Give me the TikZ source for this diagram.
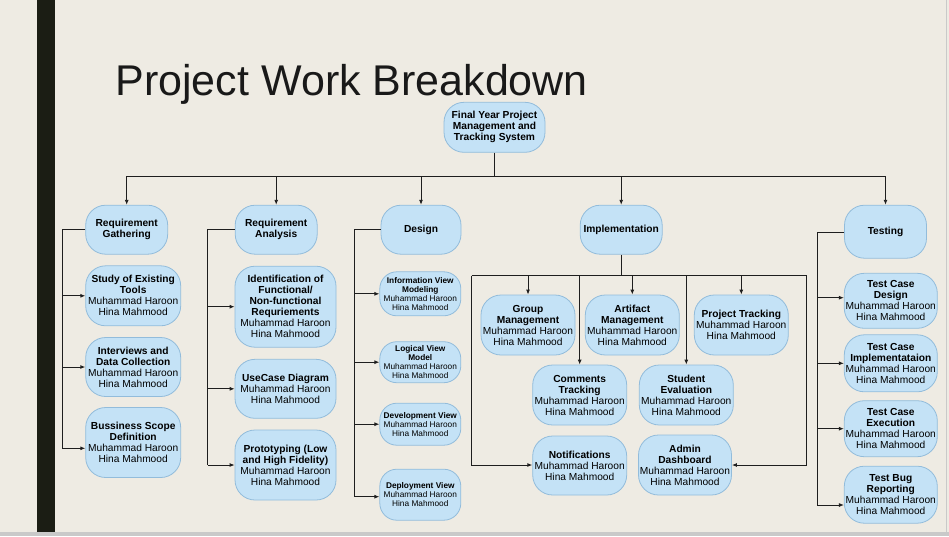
\documentclass[tikz,border=0pt]{standalone}
\usepackage{fontspec}
\setmainfont{Liberation Sans}
\usetikzlibrary{arrows.meta}
\definecolor{bgc}{HTML}{EEEBE3}
\definecolor{barc}{HTML}{1B1D14}
\definecolor{fillc}{HTML}{C4E2F6}
\definecolor{bordc}{HTML}{92BCDB}
\definecolor{linec}{HTML}{1E1E1E}
\definecolor{edgec}{HTML}{C9C9C9}
\newcommand\whoisit{Muhammad Haroon\\Hina Mahmood}
\tikzset{
  box/.style={draw=bordc, fill=fillc, rounded corners=20pt, line width=0.8pt,
    align=center, inner sep=0pt, text=black, font=\fontsize{10.2}{11}\selectfont},
  smallbox/.style={box, rounded corners=17pt, font=\fontsize{8.3}{9}\selectfont},
  conn/.style={draw=linec, line width=0.9pt},
  arr/.style={conn, -{Latex[length=5pt,width=4pt]}}
}
\begin{document}
\begin{tikzpicture}[x=1pt,y=-1pt]
\fill[bgc] (0,0) rectangle (949,536);
\useasboundingbox (0,0) rectangle (949,536);
\fill[barc] (37.3,0) rectangle (55,532);
\fill[edgec] (0,532) rectangle (949,536);
\draw[edgec, line width=1pt] (946.5,0) -- (946.5,532);

\node[anchor=base west, font=\fontsize{43}{43}\selectfont, text=black!90] (title) at (112,95) {Project Work Breakdown};

% root
\node[box, minimum width=101, minimum height=50] (root) at (494.5,127.3) {\textbf{Final Year Project}\\\textbf{Management and}\\\textbf{Tracking System}};

% level 1
\node[box, minimum width=82, minimum height=49] (rg) at (126.7,229.7) {\textbf{Requirement}\\\textbf{Gathering}};
\node[box, minimum width=82, minimum height=49] (ra) at (276.2,229.7) {\textbf{Requirement}\\\textbf{Analysis}};
\node[box, minimum width=80, minimum height=49] (de) at (421,229.7) {\textbf{Design}};
\node[box, minimum width=82, minimum height=49] (im) at (621.2,229.7) {\textbf{Implementation}};
\node[box, minimum width=82, minimum height=53] (te) at (885.5,231.7) {\textbf{Testing}};

% requirement gathering children
\node[box, minimum width=95, minimum height=60] (st) at (133.2,295.8) {\textbf{Study of Existing}\\\textbf{Tools}\\\whoisit};
\node[box, minimum width=95, minimum height=59] (iv) at (133.2,367) {\textbf{Interviews and}\\\textbf{Data Collection}\\\whoisit};
\node[box, minimum width=95, minimum height=70] (bs) at (133.2,442.5) {\textbf{Bussiness Scope}\\\textbf{Definition}\\\whoisit};

% requirement analysis children
\node[box, minimum width=101, minimum height=81] (id) at (285.5,306.7) {\textbf{Identification of}\\\textbf{Functional/}\\\textbf{Non-functional}\\\textbf{Requriements}\\\whoisit};
\node[box, minimum width=101, minimum height=59] (uc) at (285.5,388.8) {\textbf{UseCase Diagram}\\\whoisit};
\node[box, minimum width=101, minimum height=70] (pr) at (285.5,465) {\textbf{Prototyping (Low}\\\textbf{and High Fidelity)}\\\whoisit};

% design children
\node[smallbox, minimum width=81, minimum height=44] (iw) at (420.3,293.8) {\textbf{Information View}\\\textbf{Modeling}\\\whoisit};
\node[smallbox, minimum width=81, minimum height=41] (lv) at (420.3,362.2) {\textbf{Logical View}\\\textbf{Model}\\\whoisit};
\node[smallbox, minimum width=81, minimum height=42] (dv) at (420.3,424.2) {\textbf{Development View}\\\whoisit};
\node[smallbox, minimum width=81, minimum height=51] (dp) at (420.3,494.7) {\textbf{Deployment View}\\\whoisit};

% implementation children
\node[box, minimum width=94, minimum height=60] (gm) at (528,325) {\textbf{Group}\\\textbf{Management}\\\whoisit};
\node[box, minimum width=94, minimum height=60] (am) at (632.3,325) {\textbf{Artifact}\\\textbf{Management}\\\whoisit};
\node[box, minimum width=94, minimum height=60] (pt) at (741.3,325) {\textbf{Project Tracking}\\\whoisit};
\node[box, minimum width=94, minimum height=60] (ct) at (579.7,395) {\textbf{Comments}\\\textbf{Tracking}\\\whoisit};
\node[box, minimum width=94, minimum height=60] (se) at (686.3,395) {\textbf{Student}\\\textbf{Evaluation}\\\whoisit};
\node[box, minimum width=94, minimum height=59] (no) at (579.7,465.5) {\textbf{Notifications}\\\whoisit};
\node[box, minimum width=93, minimum height=60] (ad) at (685,465) {\textbf{Admin}\\\textbf{Dashboard}\\\whoisit};

% testing children
\node[box, minimum width=93, minimum height=55] (tcd) at (890.8,300.8) {\textbf{Test Case}\\\textbf{Design}\\\whoisit};
\node[box, minimum width=93, minimum height=57] (tci) at (890.8,363.3) {\textbf{Test Case}\\\textbf{Implementataion}\\\whoisit};
\node[box, minimum width=93, minimum height=56] (tce) at (890.8,428.7) {\textbf{Test Case}\\\textbf{Execution}\\\whoisit};
\node[box, minimum width=93, minimum height=57] (tbr) at (890.8,494.7) {\textbf{Test Bug}\\\textbf{Reporting}\\\whoisit};

% top bus
\coordinate (busL) at (126.7,176);
\coordinate (busR) at (885.5,176);
\draw[conn] (root.south) -- (root.south |- busL);
\draw[conn] (busL) -- (busR);
\foreach \n in {rg,ra,de,im,te} \draw[arr] (\n.north |- busL) -- (\n.north);

% requirement gathering branch
\coordinate (rgT) at (62.3,229.7);
\coordinate (rgB) at (62.3,448.3);
\draw[conn] (rg.west) -- (rgT) -- (rgB);
\draw[arr] (rgT |- st.west) -- (st.west);
\draw[arr] (rgT |- iv.west) -- (iv.west);
\draw[arr] (rgB) -- (rgB -| bs.west);

% requirement analysis branch
\coordinate (raT) at (207.7,229.7);
\coordinate (raB) at (207.7,465);
\draw[conn] (ra.west) -- (raT) -- (raB);
\draw[arr] (raT |- id.west) -- (id.west);
\draw[arr] (raT |- uc.west) -- (uc.west);
\draw[arr] (raB) -- (raB -| pr.west);

% design branch
\coordinate (deT) at (354,229.7);
\coordinate (deB) at (354,496.7);
\draw[conn] (de.west) -- (deT) -- (deB);
\draw[arr] (deT |- iw.west) -- (iw.west);
\draw[arr] (deT |- lv.west) -- (lv.west);
\draw[arr] (deT |- dv.west) -- (dv.west);
\draw[arr] (deB) -- (deB -| dp.west);

% testing branch
\coordinate (teT) at (817.3,232.7);
\coordinate (teB) at (817.3,505);
\draw[conn] (te.west |- teT) -- (teT) -- (teB);
\draw[arr] (teT |- 0,297.7) -- (tcd.west |- 0,297.7);
\draw[arr] (teT |- tci.west) -- (tci.west);
\draw[arr] (teT |- tce.west) -- (tce.west);
\draw[arr] (teB) -- (teB -| tbr.west);

% implementation branch
\coordinate (imL) at (471.7,275.7);
\coordinate (imR) at (806.7,275.7);
\coordinate (imLB) at (471.7,465);
\coordinate (imRB) at (806.7,465);
\draw[conn] (im.south) -- (im.south |- imL);
\draw[conn] (imL) -- (imR);
\draw[arr] (imL) -- (imLB) -- (imLB -| no.west);
\draw[arr] (imR) -- (imRB) -- (imRB -| ad.east);
\foreach \n in {gm,am,pt,ct,se} \draw[arr] (\n.north |- imL) -- (\n.north);
\end{tikzpicture}
\end{document}
